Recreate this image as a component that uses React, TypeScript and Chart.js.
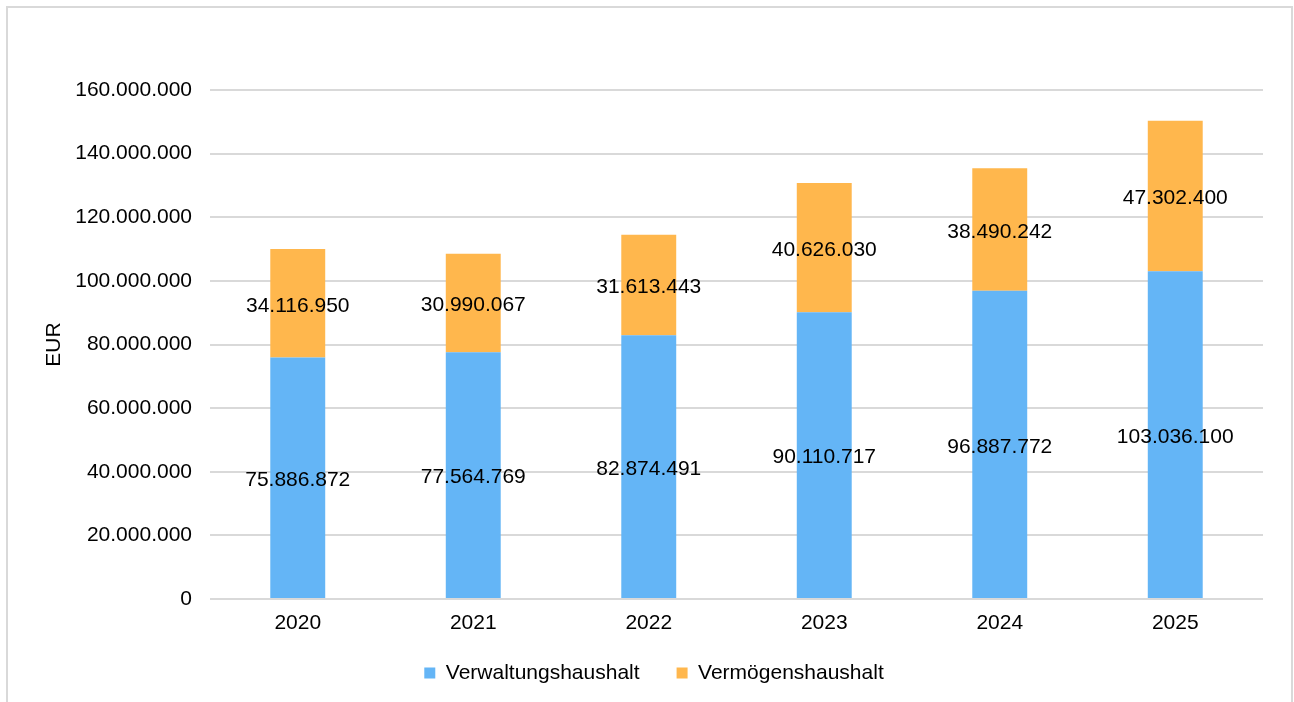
import React, { useEffect, useRef } from "react";
import { Chart, registerables } from "chart.js";

Chart.register(...registerables);

const categories = ["2020", "2021", "2022", "2023", "2024", "2025"];
const verwaltungshaushalt = [75886872, 77564769, 82874491, 90110717, 96887772, 103036100];
const vermoegenshaushalt = [34116950, 30990067, 31613443, 40626030, 38490242, 47302400];
const seriesNames = ["Verwaltungshaushalt", "Vermögenshaushalt"];
const yAxisTitle = "EUR";

const FONT = "'Liberation Sans', Arial, sans-serif";

const fmt = (v: number) => String(Math.round(v)).replace(/\B(?=(\d{3})+(?!\d))/g, ".");

const valueLabels = {
  id: "valueLabels",
  afterDatasetsDraw(chart: any) {
    const ctx = chart.ctx;
    ctx.save();
    ctx.font = `21px ${FONT}`;
    ctx.fillStyle = "#000";
    ctx.textAlign = "center";
    ctx.textBaseline = "middle";
    chart.data.datasets.forEach((ds: any, di: number) => {
      const meta = chart.getDatasetMeta(di);
      meta.data.forEach((el: any, i: number) => {
        const cy = (el.y + el.base) / 2 + 2.5;
        ctx.fillText(fmt(ds.data[i]), el.x, cy);
      });
    });
    ctx.restore();
  },
};

const legendShift = {
  id: "legendShift",
  afterLayout(chart: any) {
    if (chart.legend) {
      chart.legend.top -= 9.5;
      chart.legend.bottom -= 9.5;
      chart.legend.left -= 5;
      chart.legend.right -= 5;
    }
  },
};

export default function App() {
  const ref = useRef<HTMLCanvasElement | null>(null);

  useEffect(() => {
    if (!ref.current) return;
    const chart = new Chart(ref.current, {
      type: "bar",
      data: {
        labels: categories,
        datasets: [
          {
            label: seriesNames[0],
            data: verwaltungshaushalt,
            backgroundColor: "#64B5F6",
            borderWidth: 0,
            categoryPercentage: 1,
            barPercentage: 0.313,
          },
          {
            label: seriesNames[1],
            data: vermoegenshaushalt,
            backgroundColor: "#FFB74D",
            borderWidth: 0,
            categoryPercentage: 1,
            barPercentage: 0.313,
          },
        ],
      },
      options: {
        responsive: false,
        animation: false,
        devicePixelRatio: 1,
        layout: { padding: { left: 55, right: 31, top: 90, bottom: -1 } },
        plugins: {
          tooltip: { enabled: false },
          legend: {
            position: "bottom",
            labels: {
              font: { family: FONT, size: 21 },
              color: "#000",
              boxWidth: 11,
              boxHeight: 11,
              padding: 37,
            },
          },
        },
        scales: {
          x: {
            stacked: true,
            grid: { display: false, drawTicks: false },
            border: { display: false },
            ticks: { font: { family: FONT, size: 21 }, color: "#000", padding: 12 },
            afterFit: (s: any) => {
              s.height = 36;
            },
          },
          y: {
            stacked: true,
            min: 0,
            max: 160000000,
            grid: { color: "#d9d9d9", lineWidth: 2, drawTicks: false },
            border: { display: false },
            ticks: {
              stepSize: 20000000,
              font: { family: FONT, size: 21 },
              color: "#000",
              padding: 18,
              callback: (v: any) => fmt(Number(v)),
            },
            title: {
              display: true,
              text: yAxisTitle,
              font: { family: FONT, size: 21 },
              color: "#000",
              padding: { top: -13, bottom: 0 },
            },
            afterFit: (s: any) => {
              s.width = 155;
            },
          },
        },
      },
      plugins: [valueLabels, legendShift],
    });
    return () => chart.destroy();
  }, []);

  return (
    <div style={{ position: "fixed", left: 0, top: 0, width: 1294, height: 702, background: "#fff" }}>
      <div
        style={{
          position: "fixed",
          left: 6,
          top: 6,
          width: 1287,
          height: 740,
          boxSizing: "border-box",
          border: "2px solid #d9d9d9",
        }}
      />
      <canvas
        ref={ref}
        width={1294}
        height={702}
        style={{ position: "fixed", left: 0, top: 0, width: 1294, height: 702 }}
      />
    </div>
  );
}
